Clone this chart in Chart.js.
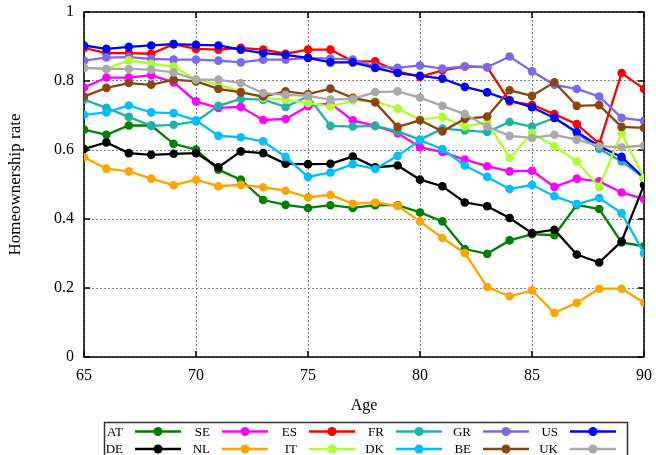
<!DOCTYPE html>
<html>
<head>
<meta charset="utf-8">
<script src="https://cdn.jsdelivr.net/npm/chart.js@4"></script>
<style>
  html, body { margin: 0; padding: 0; background: #fff; }
  canvas { display: block; }
</style>
</head>
<body>
<canvas id="chart" width="656" height="455"></canvas>
<script>
/* ---------- data ---------- */
const ages = [65, 66, 67, 68, 69, 70, 71, 72, 73, 74, 75, 76, 77, 78, 79, 80, 81, 82, 83, 84, 85, 86, 87, 88, 89, 90];

const AT = [0.659, 0.644, 0.671, 0.671, 0.618, 0.601, 0.543, 0.514, 0.455, 0.441, 0.432, 0.440, 0.432, 0.440, 0.440, 0.419, 0.393, 0.313, 0.299, 0.338, 0.356, 0.353, 0.441, 0.429, 0.332, 0.321];
const SE = [0.781, 0.810, 0.810, 0.817, 0.796, 0.741, 0.722, 0.725, 0.687, 0.690, 0.727, 0.735, 0.686, 0.670, 0.649, 0.608, 0.594, 0.572, 0.553, 0.538, 0.540, 0.493, 0.517, 0.509, 0.477, 0.458];
const ES = [0.896, 0.881, 0.881, 0.879, 0.907, 0.893, 0.891, 0.896, 0.891, 0.879, 0.891, 0.891, 0.857, 0.857, 0.828, 0.812, 0.831, 0.842, 0.840, 0.741, 0.731, 0.704, 0.675, 0.618, 0.823, 0.777];
const FR = [0.746, 0.722, 0.696, 0.670, 0.673, 0.683, 0.728, 0.748, 0.746, 0.725, 0.755, 0.670, 0.668, 0.670, 0.654, 0.630, 0.662, 0.657, 0.652, 0.681, 0.668, 0.693, 0.649, 0.603, 0.567, 0.519];
const GR = [0.859, 0.868, 0.869, 0.864, 0.862, 0.862, 0.859, 0.854, 0.862, 0.862, 0.867, 0.865, 0.862, 0.842, 0.838, 0.845, 0.836, 0.842, 0.840, 0.871, 0.828, 0.789, 0.777, 0.755, 0.693, 0.685];
const US = [0.903, 0.893, 0.899, 0.903, 0.907, 0.905, 0.903, 0.891, 0.881, 0.876, 0.867, 0.854, 0.854, 0.838, 0.823, 0.815, 0.807, 0.783, 0.767, 0.744, 0.724, 0.693, 0.652, 0.611, 0.580, 0.519];
const DE = [0.603, 0.622, 0.591, 0.586, 0.589, 0.591, 0.550, 0.596, 0.591, 0.560, 0.559, 0.560, 0.581, 0.550, 0.555, 0.514, 0.495, 0.448, 0.437, 0.403, 0.359, 0.369, 0.297, 0.274, 0.335, 0.499];
const NL = [0.579, 0.546, 0.538, 0.517, 0.498, 0.514, 0.495, 0.499, 0.492, 0.482, 0.463, 0.470, 0.444, 0.448, 0.438, 0.393, 0.345, 0.301, 0.203, 0.176, 0.193, 0.128, 0.157, 0.198, 0.198, 0.158];
const IT = [0.838, 0.835, 0.860, 0.850, 0.842, 0.804, 0.789, 0.770, 0.751, 0.746, 0.736, 0.726, 0.743, 0.741, 0.720, 0.688, 0.696, 0.668, 0.681, 0.577, 0.649, 0.611, 0.567, 0.493, 0.649, 0.519];
const DK = [0.702, 0.709, 0.729, 0.709, 0.707, 0.686, 0.641, 0.637, 0.625, 0.580, 0.522, 0.535, 0.559, 0.545, 0.583, 0.628, 0.603, 0.555, 0.522, 0.487, 0.499, 0.466, 0.443, 0.461, 0.417, 0.301];
const BE = [0.755, 0.780, 0.794, 0.789, 0.804, 0.799, 0.777, 0.767, 0.755, 0.770, 0.762, 0.778, 0.751, 0.738, 0.667, 0.686, 0.654, 0.690, 0.697, 0.773, 0.757, 0.796, 0.728, 0.730, 0.667, 0.664];
const UK = [0.838, 0.835, 0.835, 0.833, 0.825, 0.804, 0.804, 0.794, 0.765, 0.760, 0.757, 0.746, 0.748, 0.768, 0.770, 0.752, 0.728, 0.704, 0.668, 0.641, 0.635, 0.644, 0.630, 0.611, 0.608, 0.613];

const countries = ["AT", "SE", "ES", "FR", "GR", "US", "DE", "NL", "IT", "DK", "BE", "UK"];
const seriesValues = [AT, SE, ES, FR, GR, US, DE, NL, IT, DK, BE, UK];
const seriesColors = ["#008000", "#ff00ff", "#ff0000", "#20b2aa", "#7b68ee", "#0000ff",
                      "#000000", "#ffa500", "#adff2f", "#00bfff", "#8b4513", "#a9a9a9"];

const xTicks = [65, 70, 75, 80, 85, 90];
const yTicks = [0, 0.2, 0.4, 0.6, 0.8, 1];

const SERIF = "'Liberation Serif', 'Times New Roman', serif";

/* ---------- frame + inward ticks (gnuplot style) ---------- */
const framePlugin = {
  id: "frame",
  beforeDatasetsDraw(chart) {
    const { ctx, chartArea: a, scales } = chart;
    ctx.save();
    ctx.strokeStyle = "#000";
    ctx.lineWidth = 1.5;
    ctx.beginPath();
    xTicks.forEach(v => {
      const x = scales.x.getPixelForValue(v);
      ctx.moveTo(x, a.bottom); ctx.lineTo(x, a.bottom - 6);
      ctx.moveTo(x, a.top); ctx.lineTo(x, a.top + 6);
    });
    yTicks.forEach(v => {
      const y = scales.y.getPixelForValue(v);
      ctx.moveTo(a.left, y); ctx.lineTo(a.left + 6, y);
      ctx.moveTo(a.right, y); ctx.lineTo(a.right - 6, y);
    });
    ctx.stroke();
    ctx.strokeRect(a.left, a.top, a.right - a.left, a.bottom - a.top);
    ctx.restore();
  }
};

/* ---------- legend box at the bottom ---------- */
const keyPlugin = {
  id: "keyBox",
  afterDraw(chart) {
    const ctx = chart.ctx;
    ctx.save();
    ctx.strokeStyle = "#333";
    ctx.lineWidth = 1.5;
    ctx.strokeRect(104.5, 422.5, 523, 40);
    ctx.font = "13px " + SERIF;
    ctx.textAlign = "right";
    ctx.textBaseline = "middle";
    chart.data.datasets.forEach((ds, i) => {
      const col = i % 6, row = Math.floor(i / 6);
      const x0 = 135 + col * 87;
      const y = 431.5 + row * 17.5;
      ctx.fillStyle = "#000";
      ctx.fillText(ds.label, x0 - 12, y + 1);
      ctx.strokeStyle = ds.borderColor;
      ctx.lineWidth = 2.5;
      ctx.beginPath();
      ctx.moveTo(x0, y); ctx.lineTo(x0 + 46, y);
      ctx.stroke();
      ctx.fillStyle = ds.borderColor;
      ctx.beginPath();
      ctx.arc(x0 + 23, y, 4.5, 0, Math.PI * 2);
      ctx.fill();
    });
    ctx.restore();
  }
};

/* ---------- chart ---------- */
const datasets = countries.map((name, i) => ({
  label: name,
  data: ages.map((a, k) => ({ x: a, y: seriesValues[i][k] })),
  borderColor: seriesColors[i],
  backgroundColor: seriesColors[i],
  pointBackgroundColor: seriesColors[i],
  pointBorderColor: seriesColors[i],
  borderWidth: 2.3,
  pointRadius: 4.3,
  pointBorderWidth: 0,
  tension: 0,
  fill: false,
  order: countries.length - i
}));

new Chart(document.getElementById("chart"), {
  type: "line",
  data: { datasets },
  plugins: [framePlugin, keyPlugin],
  options: {
    responsive: false,
    animation: false,
    devicePixelRatio: 1,
    layout: { padding: { top: 12, right: 12, bottom: 40, left: 0 } },
    plugins: { legend: { display: false }, tooltip: { enabled: false } },
    scales: {
      x: {
        type: "linear",
        min: 65, max: 90,
        afterFit: s => { s.height = 58; s.paddingLeft = 0; s.paddingRight = 0; },
        afterBuildTicks: s => { s.ticks = xTicks.map(v => ({ value: v })); },
        ticks: { color: "#000", font: { family: SERIF, size: 16 }, padding: 9, maxRotation: 0 },
        grid: { color: "#808080", lineWidth: 1, drawTicks: false },
        border: { display: false, dash: [2, 2] },
        title: { display: true, text: "Age", color: "#000", font: { family: SERIF, size: 16 }, padding: { top: 0, bottom: 0 } }
      },
      y: {
        min: 0, max: 1,
        afterFit: s => { s.width = 84; s.paddingTop = 0; s.paddingBottom = 0; },
        afterBuildTicks: s => { s.ticks = yTicks.map(v => ({ value: v })); },
        ticks: {
          color: "#000", font: { family: SERIF, size: 16 }, padding: 10,
          callback: v => String(Number(v.toFixed(1)))
        },
        grid: { color: "#808080", lineWidth: 1, drawTicks: false },
        border: { display: false, dash: [2, 2] },
        title: { display: true, text: "Homeownership rate", color: "#000", font: { family: SERIF, size: 17 }, padding: { top: 5, bottom: 0 } }
      }
    }
  }
});
</script>
</body>
</html>
